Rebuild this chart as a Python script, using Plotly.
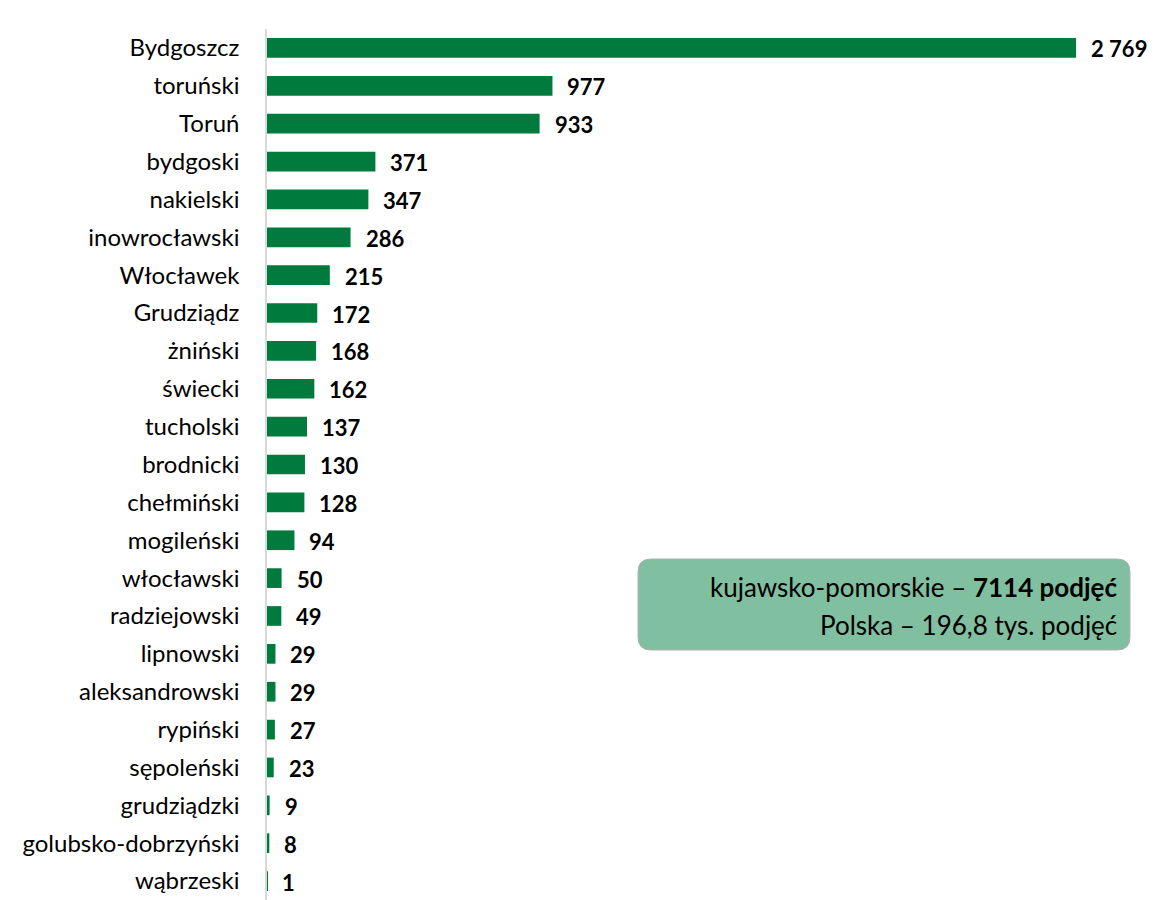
import plotly.graph_objects as go

categories = ["Bydgoszcz", "toruński", "Toruń", "bydgoski", "nakielski", "inowrocławski",
              "Włocławek", "Grudziądz", "żniński", "świecki", "tucholski", "brodnicki",
              "chełmiński", "mogileński", "włocławski", "radziejowski", "lipnowski",
              "aleksandrowski", "rypiński", "sępoleński", "grudziądzki",
              "golubsko-dobrzyński", "wąbrzeski"]
values = [2769, 977, 933, 371, 347, 286, 215, 172, 168, 162, 137, 130, 128, 94, 50, 49,
          29, 29, 27, 23, 9, 8, 1]
value_labels = ["2 769", "977", "933", "371", "347", "286", "215", "172", "168", "162",
                "137", "130", "128", "94", "50", "49", "29", "29", "27", "23", "9", "8", "1"]

FONT = "Lato"
OFF = 8  # page body margin
W, H = 1155 - OFF, 900 - OFF
ML, MR, MT, MB = 267 - OFF, 5, 21, 0
PW, PH = W - ML - MR, H - MT - MB
XMAX = 3022

fig = go.Figure(go.Bar(
    x=values, y=categories, orientation="h",
    marker=dict(color="#007A3D", line=dict(width=0)),
    width=0.52, hoverinfo="skip",
))

annotations = []
for c, v, t in zip(categories, values, value_labels):
    annotations.append(dict(x=v, y=c, text="<b>%s</b>" % t, showarrow=False,
                            xanchor="left", xshift=13, yshift=-1,
                            font=dict(family=FONT, size=22, color="#000000")))

# info box (page pixel -> paper)
def px(x):
    return (x - OFF - ML) / PW

def py(y):
    return (H - MB - (y - OFF)) / PH

x0, x1, y0, y1, r = 638, 1130, 559, 650, 13
path = (f"M {px(x0+r)},{py(y0)} L {px(x1-r)},{py(y0)} Q {px(x1)},{py(y0)} {px(x1)},{py(y0+r)} "
        f"L {px(x1)},{py(y1-r)} Q {px(x1)},{py(y1)} {px(x1-r)},{py(y1)} "
        f"L {px(x0+r)},{py(y1)} Q {px(x0)},{py(y1)} {px(x0)},{py(y1-r)} "
        f"L {px(x0)},{py(y0+r)} Q {px(x0)},{py(y0)} {px(x0+r)},{py(y0)} Z")

annotations.append(dict(xref="paper", yref="paper", x=px(1119), y=py(587),
                        xanchor="right", yanchor="middle", showarrow=False,
                        text="kujawsko-pomorskie – <b>7114 podjęć</b>",
                        font=dict(family=FONT, size=26, color="#000000")))
annotations.append(dict(xref="paper", yref="paper", x=px(1119), y=py(625),
                        xanchor="right", yanchor="middle", showarrow=False,
                        text="Polska – 196,8 tys. podjęć",
                        font=dict(family=FONT, size=26, color="#000000")))

fig.update_layout(
    width=W, height=H,
    margin=dict(l=ML, r=MR, t=MT, b=MB, pad=0),
    paper_bgcolor="white", plot_bgcolor="white",
    showlegend=False,
    font=dict(family=FONT, size=24, color="#000000"),
    xaxis=dict(range=[0, XMAX], visible=False, showgrid=False, zeroline=False),
    yaxis=dict(categoryorder="array", categoryarray=categories[::-1],
               showline=True, linecolor="#D9D9D9", linewidth=1.5,
               ticks="", ticklabelstandoff=21, showgrid=False, zeroline=False,
               tickfont=dict(family=FONT, size=24, color="#000000")),
    shapes=[dict(type="path", xref="paper", yref="paper", path=path,
                 fillcolor="#80BFA0", line=dict(color="#B0B0B0", width=1), layer="below")],
    annotations=annotations,
)

fig.write_html("out.html")
